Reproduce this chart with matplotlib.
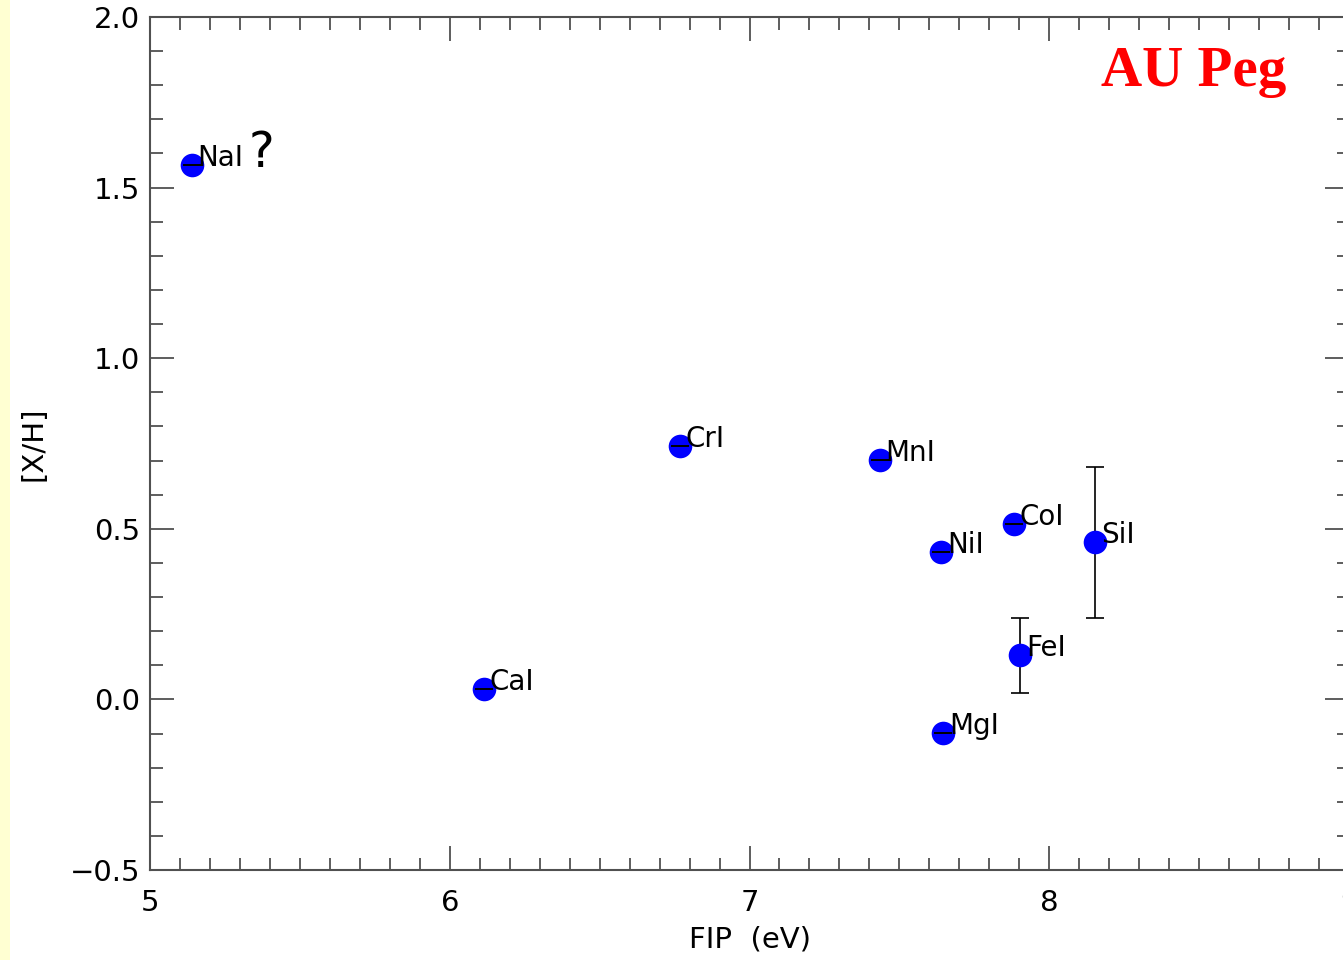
import numpy as np
import matplotlib
matplotlib.use("Agg")
import matplotlib.pyplot as plt
from matplotlib.patches import Rectangle
from matplotlib.ticker import MultipleLocator

# first ionisation potentials and abundances
elements = ["NaI", "CaI", "CrI", "MnI", "NiI", "MgI", "CoI", "FeI", "SiI"]
fip = [5.139, 6.113, 6.767, 7.434, 7.640, 7.646, 7.881, 7.902, 8.152]
xh = [1.565, 0.030, 0.742, 0.701, 0.432, -0.098, 0.513, 0.130, 0.460]
xh_err = [0.0, 0.0, 0.0, 0.0, 0.0, 0.0, 0.0, 0.11, 0.22]

plt.rcParams['font.family'] = ['DejaVu Sans']

fig = plt.figure(figsize=(13.43, 9.6), dpi=100)
fig.patch.set_facecolor('white')
fig.patches.append(Rectangle((0, 0), 10/1343, 1, transform=fig.transFigure,
                             facecolor='#ffffd2', edgecolor='none', zorder=0))

ax = fig.add_axes([150/1343, 90/960, 1199/1343, 853/960])

ax.scatter(fip, xh, s=17**2, color='#0000ff', zorder=3, linewidths=0)
eb = ax.errorbar(fip, xh, yerr=xh_err, fmt='none', ecolor='black',
                 elinewidth=1.2, capsize=6.5, capthick=1.2)
for c in eb[1]:
    c.set_zorder(4)
for b in eb[2]:
    b.set_zorder(2)

for name, x, y in zip(elements, fip, xh):
    ax.text(x + 0.02, y - 0.003, name, fontsize=20, ha='left', va='baseline', zorder=5)

# question mark next to sodium
ax.text(fip[0] + 0.19, xh[0] - 0.005, "?", fontsize=35, ha='left', va='baseline')

ax.text(0.87, 0.935, "AU Peg", transform=ax.transAxes, color='#ff0000',
        fontsize=41, fontweight='bold', family='Liberation Serif',
        ha='center', va='center')

ax.set_xlim(5, 9)
ax.set_ylim(-0.5, 2.0)
ax.xaxis.set_major_locator(MultipleLocator(1))
ax.xaxis.set_minor_locator(MultipleLocator(0.1))
ax.yaxis.set_major_locator(MultipleLocator(0.5))
ax.yaxis.set_minor_locator(MultipleLocator(0.1))
ax.tick_params(which='both', direction='in', top=True, right=True,
               color='#505050', labelsize=21)
ax.tick_params(axis='x', pad=14)
ax.tick_params(axis='y', pad=7)
ax.tick_params(which='major', length=17, width=1.3)
ax.tick_params(which='minor', length=9, width=1.3)
for s in ax.spines.values():
    s.set_color('#505050')
    s.set_linewidth(1.5)

ax.set_xlabel("FIP  (eV)", fontsize=21, labelpad=6)
ax.set_ylabel("[X/H]", fontsize=21, labelpad=16)

fig.savefig("out.png", dpi=100)
